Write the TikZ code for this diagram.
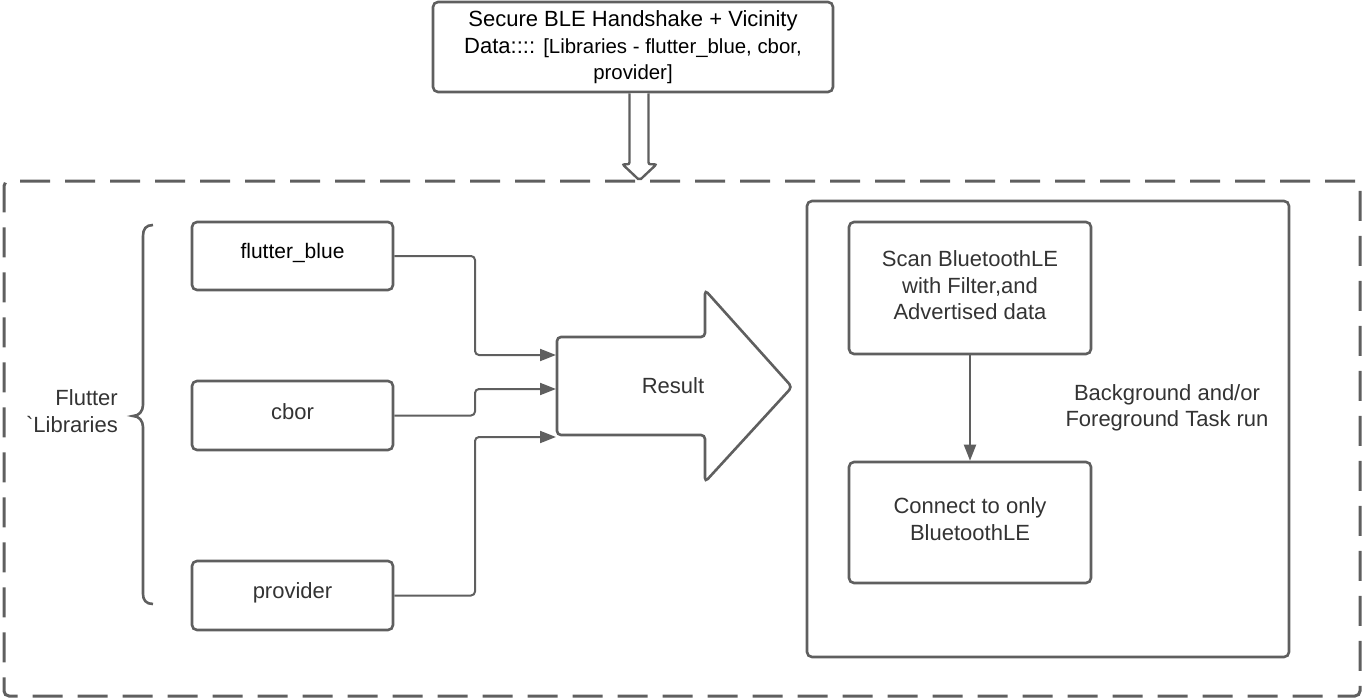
\documentclass[tikz,border=0pt]{standalone}
\usepackage{fontspec}
\setmainfont{Liberation Sans}[Ligatures=TeXOff]
\usetikzlibrary{arrows.meta,calc}
\definecolor{lc}{HTML}{5F5F5F}
\definecolor{tc}{HTML}{333333}
\tikzset{
  boxnode/.style={draw=lc, line width=2.6pt, rounded corners=5pt, fill=white, inner sep=0pt},
  txt/.style={inner sep=0pt, align=center, text=tc, font=\fontsize{22}{26.5}\selectfont},
  conn/.style={draw=lc, line width=2pt, rounded corners=4pt, -{Triangle[length=16pt,width=12pt]}},
}
\begin{document}
\begin{tikzpicture}[x=1pt,y=-1pt]
\useasboundingbox (0,0) rectangle (1363,698);
% outer dashed frame
\node[draw=lc, line width=3pt, dash pattern=on 30pt off 15pt, rounded corners=5pt, minimum width=1356pt, minimum height=515pt, inner sep=0pt] (outer) at (682,438.5) {};
% inner solid frame
\node[boxnode, minimum width=482pt, minimum height=456pt] (inner) at (1048,429) {};
% top box
\node[boxnode, minimum width=400pt, minimum height=90pt,
  label={[txt, text=black, yshift=-0.5pt]center:{Secure BLE Handshake + Vicinity\\Data:::: {\fontsize{20.4}{26.5}\selectfont[Libraries - flutter\_blue, cbor,}\\{\fontsize{20.4}{27.5}\selectfont provider]}}}] (top) at (633,47) {};
% hollow arrow
\draw[draw=lc, line width=2.4pt, rounded corners=2pt, fill=white]
  ($(top.south)+(-3.5,0)$) -- ++(0,71) -- ++(-7,0) -- ++(17,16) -- ++(17,-16) -- ++(-8,0) -- ++(0,-71);
% library boxes
\node[boxnode, minimum width=201pt, minimum height=68pt,
  label={[txt, text=black, yshift=3.5pt, font=\fontsize{21}{25}\selectfont]center:flutter\_blue}] (fb) at (292.5,256) {};
\node[boxnode, minimum width=201pt, minimum height=69pt,
  label={[txt, yshift=3.5pt]center:cbor}] (cb) at (292.5,415.5) {};
\node[boxnode, minimum width=201pt, minimum height=69pt,
  label={[txt, yshift=3pt]center:provider}] (pv) at (292.5,595.5) {};
% brace
\draw[draw=lc, line width=2.6pt]
  (153,225) .. controls (146,225) and (143,229) .. (143,236) -- (143,405)
  .. controls (143,411) and (139,416) .. (133,416)
  .. controls (139,416) and (143,421) .. (143,427) -- (143,594)
  .. controls (143,600) and (146,604) .. (153,604);
\node[txt, align=right, anchor=east] (lib) at (118,411) {Flutter\\\textasciigrave Libraries};
% result arrow
\draw[draw=lc, line width=2.6pt, rounded corners=4pt, fill=white]
  (557,337) -- (705,337) -- (705,290) -- (792,387) -- (705,482) -- (705,435) -- (557,435) -- cycle;
\node[txt] (res) at (673,386) {Result};
\coordinate (resin1) at (556,355);
\coordinate (resin2) at (556,389);
\coordinate (resin3) at (556,437);
\coordinate (bus) at (475,0);
\draw[conn] (fb.east) -| (bus |- resin1) -- (resin1);
\draw[conn] (cb.east) -| (bus |- resin2) -- (resin2);
\draw[conn] (pv.east) -| (bus |- resin3) -- (resin3);
% right side
\node[boxnode, minimum width=242pt, minimum height=132pt,
  label={[txt, yshift=2.5pt]center:{Scan BluetoothLE\\with Filter,and\\Advertised data}}] (scan) at (970,288) {};
\node[boxnode, minimum width=242pt, minimum height=121pt,
  label={[txt, yshift=3.5pt]center:{Connect to only\\BluetoothLE}}] (con) at (970,522.5) {};
\draw[conn] (scan.south) -- (con.north);
\node[txt] (bg) at (1167,408) {Background and/or\\Foreground Task run};
\end{tikzpicture}
\end{document}
